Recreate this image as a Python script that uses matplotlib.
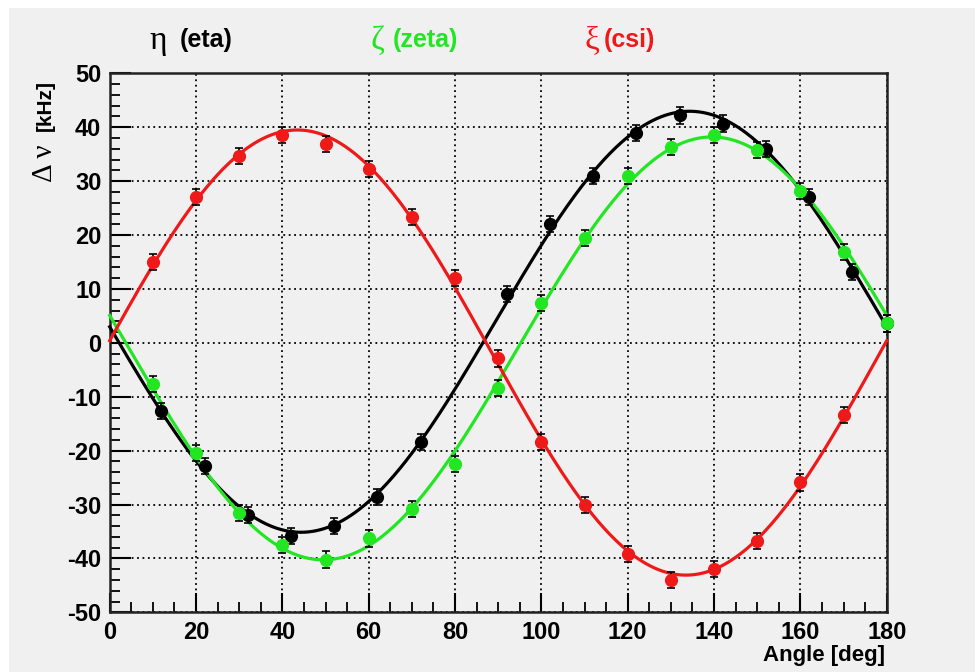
import numpy as np
import matplotlib
matplotlib.use('Agg')
import matplotlib.pyplot as plt
from matplotlib.patches import Rectangle
from matplotlib.ticker import MultipleLocator

# measured points (angle in deg, splitting in kHz)
eta_x = [12, 22, 32, 42, 52, 62, 72, 92, 102, 112, 122, 132, 142, 152, 162, 172, 180]
eta_y = [-12.7, -22.8, -32.0, -35.9, -34.0, -28.6, -18.4, 9.0, 22.0, 30.9, 39.0,
         42.2, 40.7, 35.9, 27.0, 13.2, 3.6]

zeta_x = [10, 20, 30, 40, 50, 60, 70, 80, 90, 100, 110, 120, 130, 140, 150, 160, 170, 180]
zeta_y = [-7.7, -20.4, -31.5, -37.5, -40.2, -36.3, -30.9, -22.5, -8.3, 7.4, 19.4,
          30.9, 36.3, 38.5, 35.8, 28.1, 16.8, 3.6]

csi_x = [10, 20, 30, 40, 50, 60, 70, 80, 90, 100, 110, 120, 130, 140, 150, 160, 170]
csi_y = [15.0, 27.1, 34.6, 38.5, 36.9, 32.2, 23.4, 12.1, -2.9, -18.4, -30.1,
         -39.2, -44.0, -42.0, -36.7, -25.9, -13.4]

err = 1.5

GRAY = '#f0f0f0'
RED = '#ee1a1a'
GREEN = '#22e622'

bold = ['Liberation Sans', 'DejaVu Sans']
greek = ['Liberation Serif', 'DejaVu Serif']

plt.rcParams['axes.unicode_minus'] = False


def fit_curve(x, y, xs):
    # a + b cos(2t) + c sin(2t), least squares
    t = np.radians(np.asarray(x, float))
    A = np.column_stack([np.ones_like(t), np.cos(2 * t), np.sin(2 * t)])
    coef, *_ = np.linalg.lstsq(A, np.asarray(y, float), rcond=None)
    ts = np.radians(xs)
    return coef[0] + coef[1] * np.cos(2 * ts) + coef[2] * np.sin(2 * ts)


fig = plt.figure(figsize=(9.75, 6.72), dpi=100)
fig.patch.set_facecolor('white')
fig.patches.append(Rectangle((9 / 975, 0), 1, 1 - 8 / 672, transform=fig.transFigure,
                             facecolor=GRAY, edgecolor='none', zorder=-10))

ax = fig.add_axes([0.1125, 0.0888, 0.797, 0.802])
ax.set_facecolor(GRAY)

xs = np.linspace(0, 180, 400)
for x, y, c in [(eta_x, eta_y, 'black'), (zeta_x, zeta_y, GREEN), (csi_x, csi_y, RED)]:
    ax.plot(xs, fit_curve(x, y, xs), color=c, lw=2.3, zorder=3, clip_on=False)
    ax.errorbar(x, y, yerr=err, fmt='o', color=c, ms=8.5, mec=c, ecolor='black',
                elinewidth=1.2, capsize=3, capthick=1.2, zorder=4, clip_on=False)

ax.set_xlim(0, 180)
ax.set_ylim(-50, 50)
ax.xaxis.set_major_locator(MultipleLocator(20))
ax.xaxis.set_minor_locator(MultipleLocator(5))
ax.yaxis.set_major_locator(MultipleLocator(10))
ax.yaxis.set_minor_locator(MultipleLocator(2))
ax.grid(True, which='major', color='black', lw=1.3, linestyle=(0, (1, 2)), zorder=1)
ax.set_axisbelow(True)

ax.tick_params(which='both', direction='in', top=False, right=False, color='black')
ax.tick_params(which='major', axis='y', length=15, width=1.5, pad=6)
ax.tick_params(which='major', axis='x', length=14, width=1.5, pad=6)
ax.tick_params(which='minor', length=7, width=1.3)
for lab in ax.get_xticklabels() + ax.get_yticklabels():
    lab.set_family(bold)
    lab.set_fontweight('bold')
    lab.set_fontsize(17)
for s in ax.spines.values():
    s.set_linewidth(1.8)
    s.set_color('#222222')

# axis titles
fig.text(885 / 975, 1 - 655 / 672, 'Angle [deg]', ha='right', va='center',
         family=bold, fontweight='bold', fontsize=16)
fig.text(45 / 975, 1 - 80 / 672, '[kHz]', rotation=90, ha='center', va='top',
         family=bold, fontweight='bold', fontsize=15)
fig.text(45 / 975, 1 - 182 / 672, 'Δ ν', rotation=90, ha='center', va='bottom',
         family=greek, fontsize=21)

# series labels along the top
labels = [(149, 'η', 180, '(eta)', 'black'),
          (371, 'ζ', 393, '(zeta)', GREEN),
          (584, 'ξ', 604, '(csi)', RED)]
for gx, g, tx, t, c in labels:
    fig.text(gx / 975, 1 - 41 / 672, g, ha='left', va='center', color=c,
             family=greek, fontsize=24)
    fig.text(tx / 975, 1 - 40 / 672, t, ha='left', va='center', color=c,
             family=bold, fontweight='bold', fontsize=18)

fig.savefig('out.png', dpi=100, facecolor=fig.get_facecolor())
